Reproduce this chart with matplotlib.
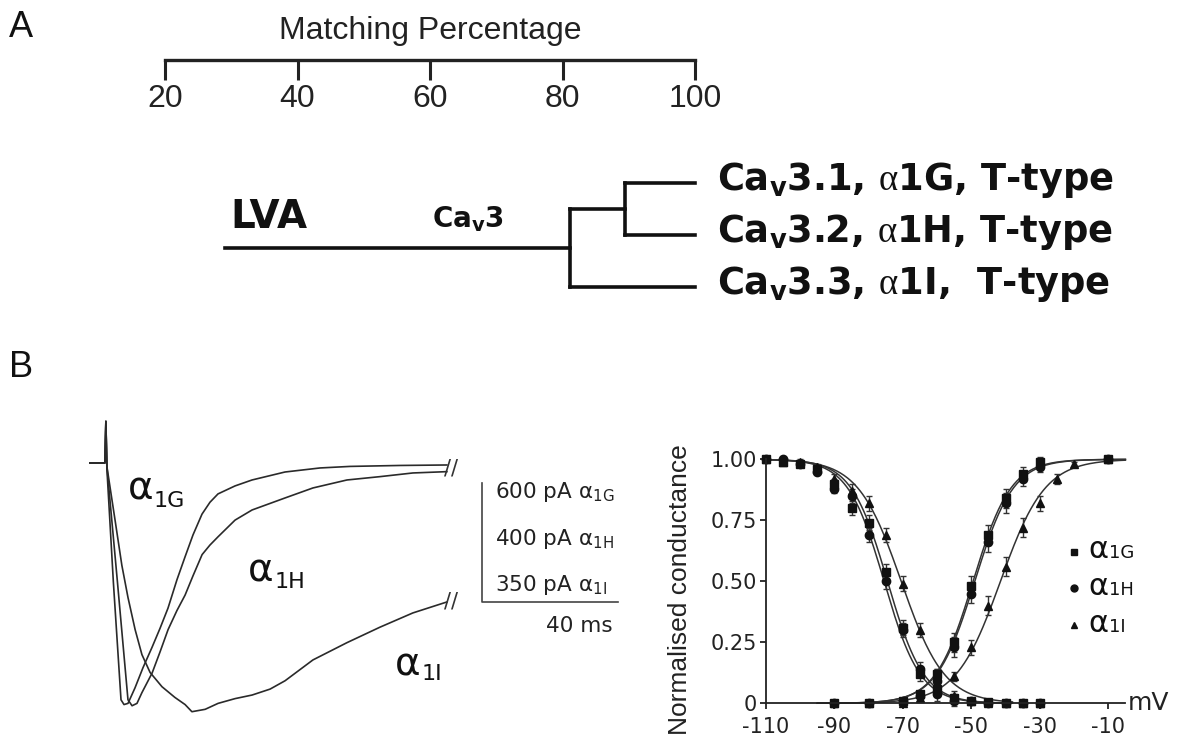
import matplotlib
matplotlib.use('Agg')
import matplotlib.pyplot as plt
import numpy as np

plt.rcParams['font.family'] = ['Liberation Sans', 'DejaVu Sans']
plt.rcParams['mathtext.fontset'] = 'custom'
plt.rcParams['mathtext.rm'] = 'Liberation Serif'
plt.rcParams['mathtext.it'] = 'Liberation Sans:italic'
plt.rcParams['axes.unicode_minus'] = False

W, H = 1177, 742
INK = '#111111'
DV = 'DejaVu Sans'

# ---- panel A: matching percentage tree ----
scale_ticks = [20, 40, 60, 80, 100]
root_start = 29.0      # where the LVA branch begins
cav3_node = 81.1       # split Cav3.3 vs (Cav3.1, Cav3.2)
gh_node = 89.4         # split Cav3.1 vs Cav3.2
leaf_end = 100.0
leaf_rows = [0, 1, 2]
leaf_labels = [r'Ca$_\mathregular{v}$3.1, $\mathrm{\alpha}$1G, T-type',
               r'Ca$_\mathregular{v}$3.2, $\mathrm{\alpha}$1H, T-type',
               r'Ca$_\mathregular{v}$3.3, $\mathrm{\alpha}$1I,  T-type']

# ---- panel B left: current traces (time in ms, current in scale-bar units) ----
t_1G = [-1.5, 2.9, 3.2, 3.5, 5.4, 7.65, 8.53, 9.71, 11.76, 14.12, 16.76, 19.12, 21.47,
        24.12, 26.47, 28.82, 31.47, 33.82, 36.18, 41.18, 46.18, 55.88, 66.18, 75.0,
        89.7, 103.5]
i_1G = [0, 0, 0.35, -0.05, -1.0, -1.99, -2.03, -2.02, -1.89, -1.72, -1.55, -1.39, -1.22,
        -0.98, -0.79, -0.605, -0.43, -0.33, -0.26, -0.193, -0.143, -0.076, -0.042,
        -0.029, -0.021, -0.017]
t_1H = [-1.5, 2.9, 3.2, 3.5, 6.6, 9.7, 10.9, 12.35, 13.8, 16.8, 19.1, 21.5, 24.1, 26.5,
        28.8, 31.5, 33.8, 36.2, 41.2, 46.2, 55.9, 64.1, 74.1, 83.8, 93.5, 103.5]
i_1H = [0, 0, 0.35, -0.03, -1.0, -1.99, -2.04, -2.02, -1.93, -1.765, -1.59, -1.40, -1.24,
        -1.11, -0.95, -0.77, -0.69, -0.62, -0.48, -0.395, -0.294, -0.21, -0.143, -0.115,
        -0.084, -0.073]
t_1I = [-1.5, 2.9, 3.2, 3.5, 5.9, 7.9, 9.7, 11.8, 13.8, 16.2, 19.7, 23.5, 26.5, 28.5,
        32.4, 36.2, 41.2, 46.2, 51.5, 55.9, 64.1, 74.1, 83.8, 93.5, 103.5]
i_1I = [0, 0, 0.35, -0.03, -0.48, -0.86, -1.13, -1.40, -1.61, -1.76, -1.88, -1.97, -2.03,
        -2.09, -2.07, -2.02, -1.98, -1.95, -1.90, -1.83, -1.655, -1.51, -1.38, -1.26,
        -1.168]
bar_ms = 40
bar_labels = ['600 pA α$_\\mathregular{1G}$', '400 pA α$_\\mathregular{1H}$',
              '350 pA α$_\\mathregular{1I}$']

# ---- panel B right: normalised conductance ----
inact_v = [-110, -105, -100, -95, -90, -85, -80, -75, -70, -65, -60, -55, -50, -45, -40, -35, -30]
inact_1G = [1.0, 0.99, 0.98, 0.96, 0.90, 0.80, 0.74, 0.54, 0.31, 0.12, 0.06, 0.02, 0.01, 0.005, 0, 0, 0]
inact_1H = [1.0, 1.0, 0.98, 0.95, 0.88, 0.85, 0.69, 0.50, 0.30, 0.14, 0.04, 0.01, 0.01, 0, 0, 0, 0]
inact_1I = [1.0, 0.99, 0.99, 0.97, 0.92, 0.87, 0.82, 0.69, 0.49, 0.30, 0.11, 0.03, 0.01, 0, 0, 0, 0]
inact_err = [0, 0, 0.01, 0.01, 0.02, 0.03, 0.03, 0.03, 0.03, 0.03, 0.03, 0.02, 0.01, 0, 0, 0, 0]
act_v_GH = [-90, -80, -70, -65, -60, -55, -50, -45, -40, -35, -30, -10]
act_1G = [0, 0, 0.01, 0.04, 0.12, 0.25, 0.48, 0.69, 0.84, 0.94, 0.99, 1.0]
act_1H = [0, 0, 0.01, 0.03, 0.09, 0.23, 0.45, 0.66, 0.82, 0.92, 0.97, 1.0]
act_err_GH = [0, 0, 0.01, 0.01, 0.02, 0.04, 0.04, 0.04, 0.04, 0.03, 0.02, 0]
act_v_I = [-90, -80, -70, -65, -60, -55, -50, -45, -40, -35, -30, -25, -20, -10]
act_1I = [0, 0, 0, 0.02, 0.06, 0.11, 0.23, 0.40, 0.56, 0.72, 0.82, 0.92, 0.98, 1.0]
act_err_I = [0, 0, 0, 0.01, 0.01, 0.02, 0.03, 0.04, 0.04, 0.04, 0.03, 0.02, 0.01, 0]
# Boltzmann fits: half voltage and slope per subunit
inact_vhalf = [-74.5, -75.5, -70.5]
inact_slope = [5.3, 5.3, 6.3]
act_vhalf = [-49.5, -49.0, -41.5]
act_slope = [5.5, 5.6, 6.5]
names = ['1G', '1H', '1I']
markers = ['s', 'o', '^']
msizes = [5.5, 6, 5.5]


def px_box(l, t, r, b):
    return [l / W, 1 - b / H, (r - l) / W, (b - t) / H]


def fig_text(x, y, s, **kw):
    fig.text(x / W, 1 - y / H, s, **kw)


def alpha_label(x, y, sub, a_size, s_size, gap, drop):
    fig_text(x, y, 'α', fontsize=a_size, family=DV, color=INK, va='baseline', ha='left')
    fig_text(x + gap, y + drop, sub, fontsize=s_size, family=DV, color=INK,
             va='baseline', ha='left')


fig = plt.figure(figsize=(W / 100, H / 100), dpi=100)

fig_text(9, 37, 'A', fontsize=26, color=INK, va='baseline')
fig_text(9, 377, 'B', fontsize=26, color=INK, va='baseline')

# scale bar of panel A
ax_s = fig.add_axes(px_box(165, 57, 695, 59.5))
ax_s.set_xlim(20, 100)
ax_s.set_yticks([])
for side in ['top', 'left', 'right']:
    ax_s.spines[side].set_visible(False)
ax_s.spines['bottom'].set_linewidth(2.4)
ax_s.spines['bottom'].set_color('#222222')
ax_s.set_xticks(scale_ticks)
ax_s.tick_params(axis='x', direction='out', length=14.5, width=2.2, color='#222222',
                 labelsize=23, pad=3, labelcolor='#222222')
ax_s.patch.set_alpha(0)
ax_s.set_title('Matching Percentage', fontsize=23, color='#222222', pad=13)

# tree
ax_t = fig.add_axes(px_box(165, 157, 695, 313))
ax_t.set_xlim(20, 100)
ax_t.set_ylim(2.5, -0.5)
ax_t.axis('off')
gh_y = (leaf_rows[0] + leaf_rows[1]) / 2
root_y = (gh_y + leaf_rows[2]) / 2
seg = dict(color=INK, lw=2.6, solid_capstyle='projecting', clip_on=False)
ax_t.plot([root_start, cav3_node], [root_y, root_y], **seg)
ax_t.plot([cav3_node, cav3_node], [gh_y, leaf_rows[2]], **seg)
ax_t.plot([cav3_node, gh_node], [gh_y, gh_y], **seg)
ax_t.plot([gh_node, gh_node], [leaf_rows[0], leaf_rows[1]], **seg)
ax_t.plot([gh_node, leaf_end], [leaf_rows[0], leaf_rows[0]], **seg)
ax_t.plot([gh_node, leaf_end], [leaf_rows[1], leaf_rows[1]], **seg)
ax_t.plot([cav3_node, leaf_end], [leaf_rows[2], leaf_rows[2]], **seg)
for row, lab in zip(leaf_rows, leaf_labels):
    ax_t.text(103.3, row + 0.13, lab, fontsize=26.5, family=DV, fontweight='bold',
              color=INK, va='baseline', ha='left', clip_on=False)
ax_t.text(29.8, 0.86, 'LVA', fontsize=28, family=DV, fontweight='bold', color=INK,
          va='baseline')
ax_t.text(60.3, 0.85, r'Ca$_\mathregular{v}$3', fontsize=20, family=DV,
          fontweight='bold', color=INK, va='baseline')

# current traces
ax_tr = fig.add_axes(px_box(85, 410, 640, 725))
ax_tr.set_xlim(-2.94, 160.3)
ax_tr.set_ylim(-2.2017, 0.445)
ax_tr.axis('off')
for tt, ii in [(t_1I, i_1I), (t_1H, i_1H), (t_1G, i_1G)]:
    ax_tr.plot(tt, ii, color='#2a2a2a', lw=1.2, solid_joinstyle='round')
ax_tr.text(t_1G[-1] + 1.2, (i_1G[-1] + i_1H[-1]) / 2, '//', fontsize=15, family=DV,
           color='#333333', ha='center', va='center')
ax_tr.text(t_1I[-1] + 1.2, i_1I[-1], '//', fontsize=15, family=DV, color='#333333',
           ha='center', va='center')
bar_t0, bar_top, bar_bot = 113.7, -0.168, -1.168
ax_tr.plot([bar_t0, bar_t0, bar_t0 + bar_ms], [bar_top, bar_bot, bar_bot],
           color='#444444', lw=1.2)
for k, lab in enumerate(bar_labels):
    ax_tr.text(bar_t0 + 3.9, -0.294 - 0.393 * k, lab, fontsize=15.5, family=DV,
               color='#222222', va='baseline')
ax_tr.text(bar_t0 + 28.7, bar_bot - 0.2, '%d ms' % bar_ms, fontsize=15.5, family=DV,
           color='#222222', ha='center', va='center')
alpha_label(128, 500, '1G', 28, 16, 26, 7)
alpha_label(248, 582, '1H', 28, 16, 27, 6)
alpha_label(395, 675, '1I', 28, 16, 27, 5)

# conductance plot
ax_g = fig.add_axes(px_box(766, 459.3, 1125.4, 703.3))
ax_g.set_xlim(-110, -5)
ax_g.set_ylim(0, 1)
for side in ['top', 'right']:
    ax_g.spines[side].set_visible(False)
for side in ['left', 'bottom']:
    ax_g.spines[side].set_linewidth(1.3)
    ax_g.spines[side].set_color('#222222')
ax_g.set_xticks([-110, -90, -70, -50, -30, -10])
ax_g.set_yticks([0, 0.25, 0.5, 0.75, 1.0])
ax_g.set_yticklabels(['0', '0.25', '0.50', '0.75', '1.00'])
ax_g.tick_params(direction='out', length=4.5, width=1.3, labelsize=15, color='#222222',
                 labelcolor='#222222', pad=2)
ax_g.tick_params(axis='x', pad=5.5)
for lab in ax_g.get_xticklabels() + ax_g.get_yticklabels():
    lab.set_family(DV)
ax_g.set_ylabel('Normalised conductance', fontsize=19, color='#222222')
ax_g.yaxis.set_label_coords(-0.206, 0.464)
ax_g.text(-4.3, 0.0, 'mV', fontsize=18, family=DV, color='#222222', va='center', ha='left')

v_in = np.linspace(-110, -38, 200)
v_ac = np.linspace(-95, -5, 200)
inact_data = [inact_1G, inact_1H, inact_1I]
act_data = [(act_v_GH, act_1G, act_err_GH), (act_v_GH, act_1H, act_err_GH),
            (act_v_I, act_1I, act_err_I)]
for k in range(3):
    g_in = 1 / (1 + np.exp((v_in - inact_vhalf[k]) / inact_slope[k]))
    g_ac = 1 / (1 + np.exp(-(v_ac - act_vhalf[k]) / act_slope[k]))
    ax_g.plot(v_in, g_in, color='#333333', lw=1.1, clip_on=False)
    ax_g.plot(v_ac, g_ac, color='#333333', lw=1.1, clip_on=False)
    ax_g.errorbar(inact_v, inact_data[k], yerr=inact_err, fmt=markers[k], ms=msizes[k],
                  color='#111111', ecolor='#333333', elinewidth=1, capsize=2.5, clip_on=False)
    av, ag, ae = act_data[k]
    ax_g.errorbar(av, ag, yerr=ae, fmt=markers[k], ms=msizes[k], color='#111111',
                  ecolor='#333333', elinewidth=1, capsize=2.5, clip_on=False)

# legend keys
for k in range(3):
    yc = 551.5 + 36.7 * k
    ax_g.plot([(1074 - 766) / 359.4], [(703.3 - yc) / 244], markers[k], ms=msizes[k] - 1,
              color='#111111', transform=ax_g.transAxes, clip_on=False)
    alpha_label(1088, yc + 7, names[k], 22, 13, 21, 0)

fig.savefig('out.png', dpi=100)
